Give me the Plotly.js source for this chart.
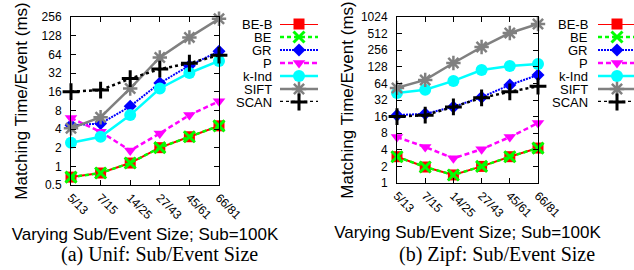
<!DOCTYPE html>
<html><head><meta charset="utf-8">
<script src="https://cdn.plot.ly/plotly-3.0.1.min.js"></script>
<style>html,body{margin:0;padding:0;background:#fff}#chart{width:634px;height:270px}</style>
</head><body><div id="chart"></div>
<script>
// ---- data ----
const categories = ['5/13', '7/15', '14/25', '27/43', '45/61', '66/81'];
const seriesNames = ['BE-B', 'BE', 'GR', 'P', 'k-Ind', 'SIFT', 'SCAN'];

// (a) Unif
const unifBEB  = [0.67, 0.78, 1.13, 2.0, 3.0, 4.5];
const unifBE   = [0.67, 0.78, 1.13, 2.0, 3.0, 4.5];
const unifGR   = [4.6, 4.9, 9.3, 22, 42, 72];
const unifP    = [6.0, 3.6, 1.8, 3.4, 6.7, 11.2];
const unifKInd = [2.4, 3.0, 6.7, 18, 32, 50];
const unifSIFT = [4.1, 6.2, 18, 57, 120, 240];
const unifSCAN = [16, 17, 26, 37, 46, 62];

// (b) Zipf
const zipfBEB  = [3.0, 1.95, 1.4, 2.0, 3.0, 4.3];
const zipfBE   = [3.0, 1.95, 1.4, 2.0, 3.0, 4.3];
const zipfGR   = [17, 18, 24, 36, 60, 91];
const zipfP    = [6.8, 4.5, 2.8, 4.1, 6.8, 12.2];
const zipfKInd = [43, 49, 71, 112, 132, 144];
const zipfSIFT = [53, 74, 150, 292, 525, 765];
const zipfSCAN = [16, 17, 24, 35, 45, 57];

const unifTickVals = [0.5, 1, 2, 4, 8, 16, 32, 64, 128, 256];
const unifTickText = ['0.5', '1', '2', '4', '8', '16', '32', '64', '128', '256'];
const zipfTickVals = [1, 2, 4, 8, 16, 32, 64, 128, 256, 512, 1024];
const zipfTickText = ['1', '2', '4', '8', '16', '32', '64', '128', '256', '512', '1024'];

const xTitle = 'Varying Sub/Event Size; Sub=100K';
const yTitle = 'Matching Time/Event (ms)';
const captionA = '(a) Unif: Sub/Event Size';
const captionB = '(b) Zipf: Sub/Event Size';

// ---- styles ----
const styles = [
  {color: '#ff0000', width: 2,   dash: 'solid',   symbol: 'square',          size: 11, mline: 0},
  {color: '#00ff00', width: 2.5, dash: '4px,3px', symbol: 'x-thin-open',     size: 11, mline: 3},
  {color: '#0000ff', width: 2,   dash: '2px,1px', symbol: 'diamond',         size: 10, mline: 0},
  {color: '#ff00ff', width: 2.5, dash: '5px,3px', symbol: 'triangle-down',   size: 11, mline: 0},
  {color: '#00ffff', width: 2.5, dash: 'solid',   symbol: 'circle',          size: 12, mline: 0},
  {color: '#808080', width: 2.5, dash: 'solid',   symbol: 'asterisk-open',   size: 12, mline: 2.5},
  {color: '#000000', width: 2.5, dash: '3px,3px', symbol: 'cross-thin-open', size: 12, mline: 3}
];

const unifData = [unifBEB, unifBE, unifGR, unifP, unifKInd, unifSIFT, unifSCAN];
const zipfData = [zipfBEB, zipfBE, zipfGR, zipfP, zipfKInd, zipfSIFT, zipfSCAN];

function dataTrace(name, y, st, xa, ya) {
  return {
    type: 'scatter', mode: 'lines+markers', name: name,
    x: categories, y: y, xaxis: xa, yaxis: ya, showlegend: false, cliponaxis: false,
    line: {color: st.color, width: st.width, dash: st.dash},
    marker: {symbol: st.symbol, size: st.size, color: st.color,
             line: {color: st.color, width: st.mline}}
  };
}
function keyTrace(name, i, st, xa, ya) {
  return {
    type: 'scatter', mode: 'lines+markers', name: name,
    x: [0, 0.5, 1], y: [i, i, i], xaxis: xa, yaxis: ya, showlegend: false, cliponaxis: false,
    hoverinfo: 'skip',
    line: {color: st.color, width: st.width, dash: st.dash},
    marker: {symbol: st.symbol, size: st.size, color: st.color, opacity: [0, 1, 0],
             line: {color: st.color, width: st.mline}}
  };
}

const traces = [];
seriesNames.forEach((n, i) => traces.push(dataTrace(n, unifData[i], styles[i], 'x', 'y')));
seriesNames.forEach((n, i) => traces.push(dataTrace(n, zipfData[i], styles[i], 'x2', 'y2')));
seriesNames.forEach((n, i) => traces.push(keyTrace(n, i, styles[i], 'x3', 'y3')));
seriesNames.forEach((n, i) => traces.push(keyTrace(n, i, styles[i], 'x4', 'y4')));

const W = 634, H = 270;
const sans = 'Liberation Sans, Arial, sans-serif';
const serif = 'Liberation Serif, Times New Roman, serif';

function xAxis(domain, anchor) {
  return {
    domain: domain, anchor: anchor, type: 'category', range: [0, categories.length - 1],
    showline: true, linecolor: '#000', linewidth: 1, mirror: 'ticks',
    ticks: 'inside', ticklen: 5, tickcolor: '#000', tickangle: 45,
    showgrid: false, zeroline: false, automargin: false,
    tickfont: {family: sans, size: 12, color: '#000'},
    title: {text: xTitle, font: {family: sans, size: 17, color: '#000'}, standoff: 6}
  };
}
function yAxis(domain, anchor, vals, text) {
  return {
    domain: domain, anchor: anchor, type: 'log',
    range: [Math.log10(vals[0]), Math.log10(vals[vals.length - 1])],
    tickmode: 'array', tickvals: vals, ticktext: text,
    showline: true, linecolor: '#000', linewidth: 1, mirror: 'ticks',
    ticks: 'inside', ticklen: 5, tickcolor: '#000', ticklabelstandoff: 6,
    showgrid: false, zeroline: false, automargin: false,
    tickfont: {family: sans, size: 12, color: '#000'},
    title: {text: yTitle, font: {family: sans, size: 17, color: '#000'}}
  };
}
function hidden(domain, anchor, range) {
  return {domain: domain, anchor: anchor, range: range, visible: false, fixedrange: true};
}

const annotations = [];
seriesNames.forEach((n, i) => {
  annotations.push({xref: 'x3', yref: 'y3', x: 0, y: i, xanchor: 'right', yanchor: 'middle',
    xshift: -6, showarrow: false, text: n, font: {family: sans, size: 13, color: '#000'}});
  annotations.push({xref: 'x4', yref: 'y4', x: 0, y: i, xanchor: 'right', yanchor: 'middle',
    xshift: -8, showarrow: false, text: n, font: {family: sans, size: 13, color: '#000'}});
});
annotations.push({xref: 'paper', yref: 'paper', x: 159 / W, y: (H - 254) / H, xanchor: 'center',
  yanchor: 'middle', showarrow: false, text: captionA, font: {family: serif, size: 20, color: '#000'}});
annotations.push({xref: 'paper', yref: 'paper', x: 497 / W, y: (H - 254) / H, xanchor: 'center',
  yanchor: 'middle', showarrow: false, text: captionB, font: {family: serif, size: 20, color: '#000'}});

const layout = {
  width: W, height: H, margin: {l: 0, r: 0, t: 0, b: 0, pad: 0},
  paper_bgcolor: '#fff', plot_bgcolor: '#fff', showlegend: false,
  xaxis: xAxis([71 / W, 219 / W], 'y'),
  yaxis: yAxis([(H - 185) / H, (H - 17) / H], 'x', unifTickVals, unifTickText),
  xaxis2: xAxis([397 / W, 538 / W], 'y2'),
  yaxis2: yAxis([(H - 183) / H, (H - 17) / H], 'x2', zipfTickVals, zipfTickText),
  xaxis3: hidden([280 / W, 318 / W], 'y3', [0, 1]),
  yaxis3: hidden([(H - 102) / H, (H - 24) / H], 'x3', [seriesNames.length - 1, 0]),
  xaxis4: hidden([598 / W, 1], 'y4', [0, 36 / 38]),
  yaxis4: hidden([(H - 102) / H, (H - 24) / H], 'x4', [seriesNames.length - 1, 0]),
  annotations: annotations
};

Plotly.newPlot('chart', traces, layout, {staticPlot: true, displayModeBar: false});
</script>
</body></html>
